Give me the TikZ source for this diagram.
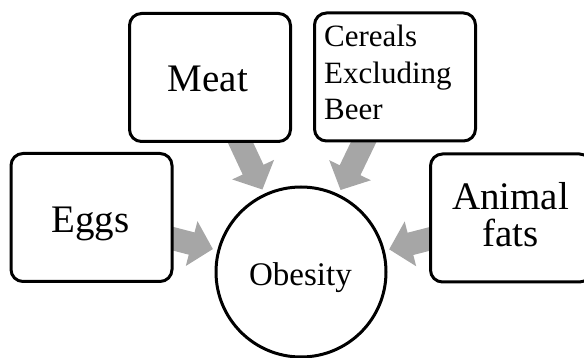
\documentclass[tikz,border=0pt]{standalone}
\usepackage{fontspec}
\setmainfont{Liberation Serif}
\usetikzlibrary{arrows.meta,backgrounds}
\definecolor{arrowgray}{RGB}{166,166,166}
\begin{document}
\begin{tikzpicture}[x=1pt,y=-1pt,
  card/.style={draw,line width=3pt,rounded corners=12pt,fill=white,
    minimum width=161pt,minimum height=128pt,inner sep=0pt,outer sep=0pt},
  hub/.style={draw,circle,line width=3pt,fill=white,minimum size=170pt,inner sep=0pt,outer sep=1.5pt},
  bigtxt/.style={font=\fontsize{39}{39}\selectfont,inner sep=0pt,anchor=base},
  midtxt/.style={font=\fontsize{31}{31}\selectfont,inner sep=0pt,anchor=base west},
  hubtxt/.style={font=\fontsize{33}{33}\selectfont,inner sep=0pt,anchor=base},
  feed/.style={draw=arrowgray,line width=23pt,-{Triangle[length=22pt,width=45pt]},shorten >=4.5pt}]
\path[use as bounding box,clip] (0,0) rectangle (584,358);
\node[card] (meat) at (210,77.5) {};
\node[card] (cereals) at (395,77) {};
\node[card] (eggs) at (91.5,217.5) {};
\node[card] (animal) at (511,218) {};
\node[hub] (obesity) at (301,272) {};
\node[bigtxt] (meatlbl) at (208,92) {Meat};
\node[bigtxt] (eggslbl) at (90.5,233) {Eggs};
\node[bigtxt] (animallbl) at (510.5,210) {Animal};
\node[bigtxt] (fatslbl) at (510.5,247) {fats};
\node[midtxt] (cer1) at (324,47) {Cereals};
\node[midtxt] (cer2) at (324,83.5) {Excluding};
\node[midtxt] (cer3) at (324,120) {Beer};
\node[hubtxt] (obeslbl) at (300.5,286) {Obesity};
\begin{scope}[on background layer]
\draw[feed] (meat.center) -- (obesity);
\draw[feed] (cereals.center) -- (obesity);
\draw[feed] (eggs.center) -- (obesity);
\draw[feed] (animal.center) -- (obesity);
\end{scope}
\end{tikzpicture}
\end{document}
